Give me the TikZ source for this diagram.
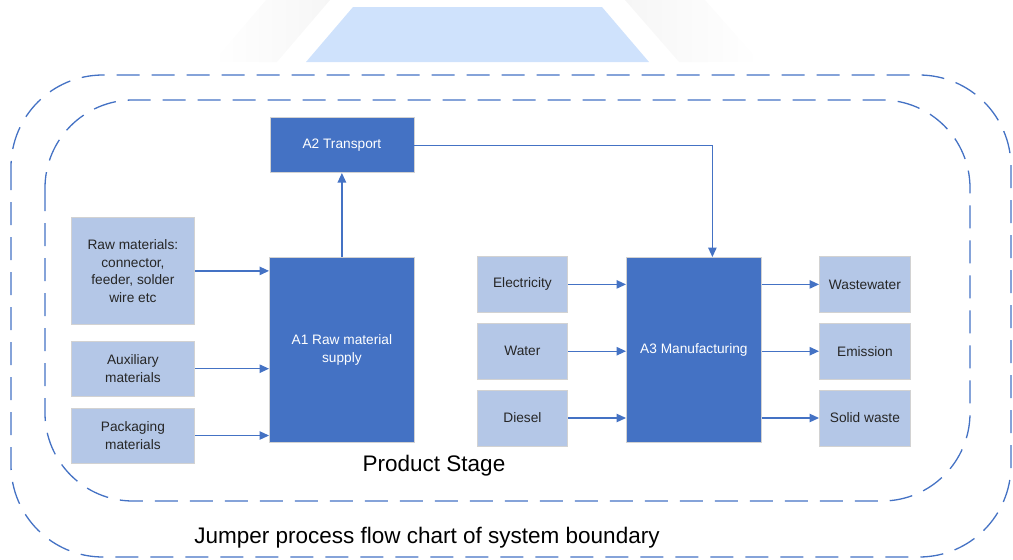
\documentclass[tikz,border=0pt]{standalone}
\usepackage{fontspec}
\setmainfont{Liberation Sans}
\usepackage{xcolor}
\usetikzlibrary{arrows.meta,positioning}
\definecolor{boxblue}{HTML}{4472C4}
\definecolor{lightblue}{HTML}{B4C7E7}
\definecolor{paleblue}{HTML}{CFE2FC}
\definecolor{txtgray}{HTML}{262626}

\begin{document}
\begin{tikzpicture}[x=1pt, y=-1pt,
  every node/.style={font=\fontsize{13.7}{17.5}\selectfont, inner sep=2pt},
  box/.style={draw=gray!35, line width=0.8pt, align=center},
  inbox/.style={box, fill=lightblue, text=txtgray},
  stagebox/.style={box, fill=boxblue, text=white},
  arr/.style={-{Triangle[length=9.5pt,width=8.5pt]}, line width=1.2pt, draw=boxblue},
  bound/.style={draw=boxblue, line width=1.3pt, dash pattern=on 23pt off 12pt},
  title/.style={font=\fontsize{22.5}{27}\selectfont, text=black}
]
\useasboundingbox (0,0) rectangle (1013,560);

% Header shapes
\shade[left color=white, right color=gray!7] (213,62) -- (277,62) -- (330,0) -- (266,0) -- cycle;
\shade[left color=gray!7, right color=white] (625,0) -- (705,0) -- (760,62) -- (679,62) -- cycle;
\fill[paleblue] (306,62) -- (353,7) -- (602,7) -- (649,62) -- cycle;

% System boundaries
\draw[bound, rounded corners=92pt] (11,75) rectangle (1011,557);
\draw[bound, rounded corners=88pt] (45,100) rectangle (970,501);

% A1 and its inputs
\node[inbox, minimum width=123pt, minimum height=107pt, anchor=north west] (raw) at (71,217)
  {Raw materials:\\connector,\\feeder, solder\\wire etc};
\node[inbox, minimum width=123pt, minimum height=55pt, below=16pt of raw] (aux) {Auxiliary\\materials};
\node[inbox, minimum width=123pt, minimum height=55pt, below=11pt of aux] (pack) {Packaging\\materials};
\node[stagebox, minimum width=145pt, minimum height=185pt, anchor=north west] (a1) at (269,257)
  {A1 Raw material\\supply};
\node[stagebox, minimum width=144pt, minimum height=55pt, above=84pt of a1] (a2) {A2 Transport};

% A3 with inputs and outputs
\node[stagebox, minimum width=135pt, minimum height=185pt, anchor=north west] (a3) at (626,257)
  {A3 Manufacturing};
\node[inbox, minimum width=90pt, minimum height=56pt, anchor=north west] (elec) at (477,256) {Electricity};
\node[inbox, minimum width=90pt, minimum height=56pt, below=10pt of elec] (water) {Water};
\node[inbox, minimum width=90pt, minimum height=56pt, below=10pt of water] (diesel) {Diesel};
\node[inbox, minimum width=91pt, minimum height=56pt, anchor=north west] (wastew) at (819,256) {Wastewater};
\node[inbox, minimum width=91pt, minimum height=56pt, below=10pt of wastew] (emis) {Emission};
\node[inbox, minimum width=91pt, minimum height=56pt, below=10pt of emis] (solid) {Solid waste};

% Captions
\node[title] (stage) at (434,466) {Product Stage};
\node[title] (sysb) at (427,538) {Jumper process flow chart of system boundary};

% Flow arrows
\draw[arr] (raw.east) -- (raw.east -| a1.west);
\draw[arr] (aux.east) -- (aux.east -| a1.west);
\draw[arr] (pack.east) -- (pack.east -| a1.west);
\draw[arr] (a1.north) -- (a2.south);
\draw[arr] (a2.east) -| ([xshift=18.5pt]a3.north);
\draw[arr] (elec.east) -- (elec.east -| a3.west);
\draw[arr] (water.east) -- (water.east -| a3.west);
\draw[arr] (diesel.east) -- (diesel.east -| a3.west);
\draw[arr] (wastew.west -| a3.east) -- (wastew.west);
\draw[arr] (emis.west -| a3.east) -- (emis.west);
\draw[arr] (solid.west -| a3.east) -- (solid.west);
\end{tikzpicture}
\end{document}
